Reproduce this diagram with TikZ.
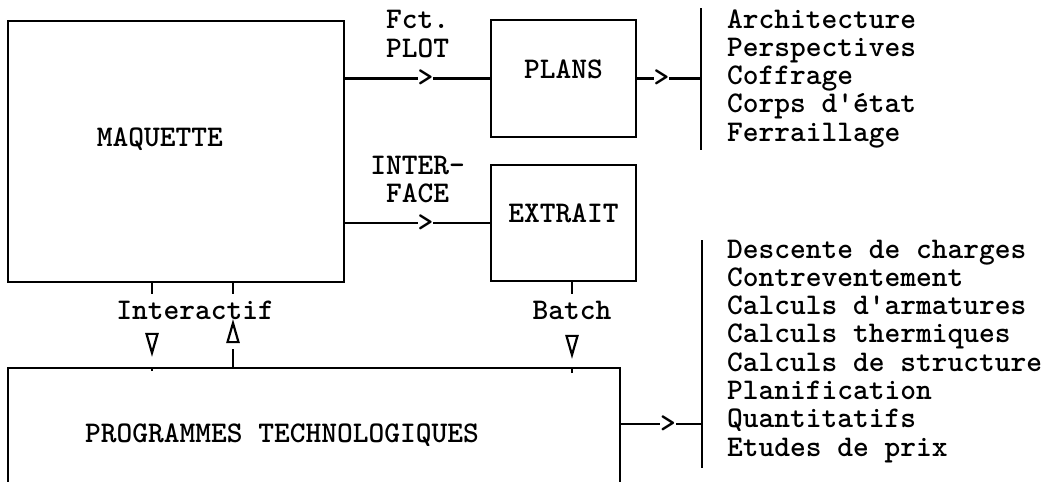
\documentclass[tikz,border=0pt]{standalone}
\usetikzlibrary{fit,shapes.geometric}

\begin{document}
\begin{tikzpicture}[x=0.5pt, y=-0.5pt, line width=1.1pt,
  txt/.style={font=\fontsize{15}{14.2}\selectfont\ttfamily\bfseries, inner sep=0pt},
  box/.style={draw, txt, inner sep=0pt},
  tip/.style={txt, fill=white},
  lbl/.style={txt, inner sep=3pt},
  tri/.style={draw, isosceles triangle, isosceles triangle stretches,
    minimum width=5.5pt, minimum height=9.5pt, inner sep=0pt, outer sep=3.5pt}]
\useasboundingbox (0,0) rectangle (1051,482);
\clip (0,0) rectangle (1051,482);
%
% --- Boxes ---
\node[box, fit={(8,21) (344,282)}] (maq) {};
\node[txt, anchor=base] (maqtxt) at (160,146) {MAQUETTE};
\node[box, fit={(491,20) (636,137)}] (plans) {PLANS};
\node[box, fit={(491,165) (636,281)}] (extr) {EXTRAIT};
\node[box, fit={(8,368) (620,540)}] (prog) {};
\node[txt, anchor=base] (progtxt) at (282,442) {PROGRAMMES TECHNOLOGIQUES};
%
% --- Lists ---
\coordinate (bar1t) at (701,8);
\coordinate (bar1b) at (701,150);
\coordinate (bar2t) at (702,240);
\coordinate (bar2b) at (702,468);
\draw (bar1t) -- (bar1b);
\draw (bar2t) -- (bar2b);
\foreach \t [count=\i from 0] in {Architecture, Perspectives, Coffrage,
    Corps d\textquotesingle\'etat, Ferraillage}
  \node[txt, anchor=base west] (pl\i) at (726,{28+28.3*\i}) {\t};
\foreach \t [count=\i from 0] in {Descente de charges, Contreventement,
    Calculs d\textquotesingle armatures, Calculs thermiques,
    Calculs de structure, Planification, Quantitatifs, Etudes de prix}
  \node[txt, anchor=base west] (ca\i) at (726,{258+28.3*\i}) {\t};
%
% --- Arrows ---
\draw (maq.east |- plans) -- node[tip, pos=.555]{>}
  node[txt, align=center, above=10pt]{Fct.\\PLOT} (plans.west);
\draw (maq.east |- extr) -- node[tip, pos=.555]{>}
  node[txt, align=center, above=9.5pt]{INTER-\\FACE} (extr.west);
\draw (plans.east) -- node[tip, pos=.38]{>} (plans.east -| bar1t);
\coordinate (progout) at ([yshift=-28.5pt]prog.north east);
\draw (progout) -- node[tip, pos=.58]{>} (progout -| bar2t);
%
% --- Interactif / Batch ---
\node[lbl] (inter) at (195,310) {Interactif};
\node[lbl] (batch) at (572,310) {Batch};
\node[tri, shape border rotate=270] (dn1) at (152,338) {};
\node[tri, shape border rotate=90] (up1) at (233,338) {};
\node[tri, shape border rotate=270] (dn2) at (572,340) {};
\draw (maq.south -| dn1) -- (inter.north -| dn1);
\draw (maq.south -| up1) -- (inter.north -| up1);
\draw (extr.south -| dn2) -- (batch.north);
\draw (dn1.apex) -- (prog.north -| dn1);
\draw (up1.lower side) -- (prog.north -| up1);
\draw (dn2.apex) -- (prog.north -| dn2);
%
\end{tikzpicture}
\end{document}
